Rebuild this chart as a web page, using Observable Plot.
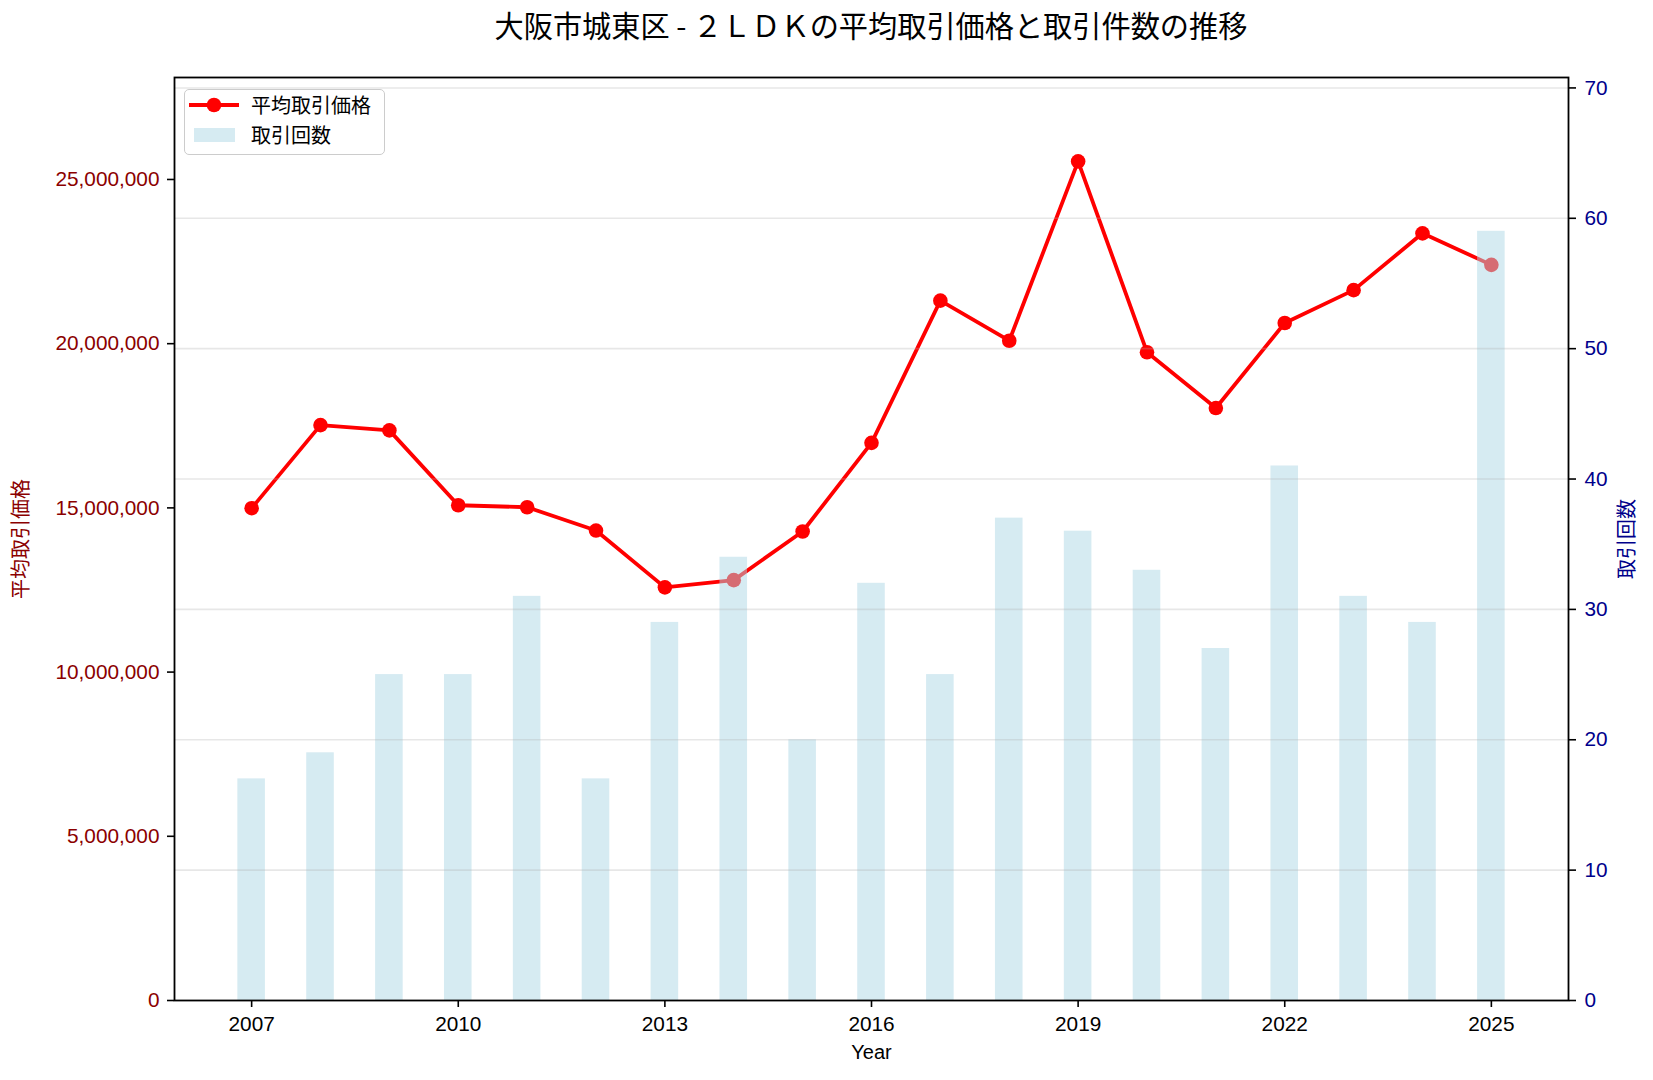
<!DOCTYPE html>
<html lang="ja">
<head>
<meta charset="utf-8">
<script src="https://cdn.jsdelivr.net/npm/d3@7"></script>
<script src="https://cdn.jsdelivr.net/npm/@observablehq/plot@0.6"></script>
<style>
  html, body { margin: 0; padding: 0; background: #ffffff; }
  #wrap { position: relative; width: 1653px; height: 1080px; overflow: hidden;
          font-family: "Liberation Sans", "Noto Sans CJK JP", sans-serif; }
  #title { position: absolute; left: 174px; width: 1394px; top: 5px; text-align: center;
           font-family: "Noto Sans CJK JP", sans-serif; font-size: 29.2px; line-height: 38px; color: #000; }
  .layer { position: absolute; left: 0; top: 60px; }
  #legend { position: absolute; left: 184px; top: 89px; width: 201px; height: 66px; box-sizing: border-box;
            border: 1.5px solid #cccccc; border-radius: 5px; background: rgba(255,255,255,0.8);
            font-family: "Noto Sans CJK JP", sans-serif; font-size: 20px; color: #000; }
  #legend .row { position: absolute; left: 0; height: 30px; display: flex; align-items: center; }
  #legend svg { display: block; }
  #legend span { position: absolute; left: 66px; white-space: nowrap; line-height: 30px; top: 0; }
</style>
</head>
<body>
<div id="wrap">
  <div id="title">大阪市城東区 - ２ＬＤＫの平均取引価格と取引件数の推移</div>
  <div id="lineLayer" class="layer"></div>
  <div id="barLayer" class="layer"></div>
  <div id="legend">
    <div class="row" style="top:0px; width:200px;">
      <svg width="60" height="30" style="margin-left:2px">
        <line x1="2" y1="15" x2="52" y2="15" stroke="red" stroke-width="3.8"/>
        <circle cx="27" cy="15" r="7.3" fill="red"/>
      </svg>
      <span>平均取引価格</span>
    </div>
    <div class="row" style="top:30px; width:200px;">
      <svg width="60" height="30" style="margin-left:2px">
        <rect x="7" y="8" width="41" height="14" fill="lightblue" fill-opacity="0.5"/>
      </svg>
      <span>取引回数</span>
    </div>
  </div>
</div>
<script>
// Yearly figures for 2LDK units in Joto Ward, Osaka
const years  = [2007, 2008, 2009, 2010, 2011, 2012, 2013, 2014, 2015, 2016,
                2017, 2018, 2019, 2020, 2021, 2022, 2023, 2024, 2025];
const prices = [14990000, 17520000, 17360000, 15080000, 15020000, 14310000, 12580000,
                12800000, 14280000, 16980000, 21310000, 20090000, 25550000, 19740000,
                18040000, 20630000, 21630000, 23360000, 22400000];
const counts = [17, 19, 25, 25, 31, 17, 29, 34, 20, 32, 25, 37, 36, 33, 27, 41, 31, 29, 59];

const xTicks     = [2007, 2010, 2013, 2016, 2019, 2022, 2025];
const priceTicks = [0, 5000000, 10000000, 15000000, 20000000, 25000000];
const countTicks = [0, 10, 20, 30, 40, 50, 60, 70];

const rows = years.map((year, i) => ({year, price: prices[i], count: counts[i]}));

// shared frame geometry for the two stacked layers
const frame = {
  width: 1653, height: 1020,
  marginTop: 17, marginRight: 85, marginBottom: 80, marginLeft: 174
};
const barHalf = 0.2;
const xDomain = [years[0] - barHalf - 0.92, years[years.length - 1] + barHalf + 0.92];
const priceMax = d3.max(prices) * 1.1;
const countMax = d3.max(counts) * 1.2;
const font = {background: "transparent", fontFamily: "'Liberation Sans', 'Noto Sans CJK JP', sans-serif",
              fontSize: "20.8px", color: "#000", overflow: "visible"};

// lower layer: price line on the left axis, plus the year axis
const linePlot = Plot.plot({
  ...frame,
  style: font,
  x: {type: "linear", domain: xDomain},
  y: {type: "linear", domain: [0, priceMax]},
  marks: [
    Plot.axisX({ticks: xTicks, tickFormat: d3.format("d"), tickSize: 7, tickPadding: 9,
                stroke: "black", strokeWidth: 1.6, fill: "black", label: null}),
    Plot.axisY({anchor: "left", ticks: priceTicks, tickFormat: d3.format(","), tickSize: 7, tickPadding: 8,
                stroke: "black", strokeWidth: 1.6, fill: "darkred", label: null}),
    Plot.line(rows, {x: "year", y: "price", stroke: "red", strokeWidth: 3.8}),
    Plot.dot(rows, {x: "year", y: "price", r: 7.3, fill: "red", stroke: "none"}),
    Plot.text(["Year"], {frameAnchor: "bottom", dy: 58, fill: "black", fontSize: 20}),
    Plot.text(["平均取引価格"], {frameAnchor: "left", dx: -153, rotate: -90, textAnchor: "middle",
                             fill: "darkred", fontSize: 20, fontFamily: "'Noto Sans CJK JP', sans-serif"})
  ]
});

// upper layer: transaction counts on the right axis, drawn over the line
const barPlot = Plot.plot({
  ...frame,
  style: font,
  x: {type: "linear", domain: xDomain, axis: null},
  y: {type: "linear", domain: [0, countMax]},
  marks: [
    Plot.rect(rows, {x1: d => d.year - barHalf, x2: d => d.year + barHalf, y1: 0, y2: "count",
                     fill: "lightblue", fillOpacity: 0.5}),
    Plot.ruleY(countTicks.filter(t => t > 0), {stroke: "#b0b0b0", strokeOpacity: 0.3, strokeWidth: 1.6}),
    Plot.axisY({anchor: "right", ticks: countTicks, tickSize: 7, tickPadding: 9,
                stroke: "black", strokeWidth: 1.6, fill: "darkblue", label: null}),
    Plot.frame({stroke: "black", strokeWidth: 1.8}),
    Plot.text(["取引回数"], {frameAnchor: "right", dx: 59, rotate: -90, textAnchor: "middle",
                          fill: "darkblue", fontSize: 20, fontFamily: "'Noto Sans CJK JP', sans-serif"})
  ]
});

document.getElementById("lineLayer").appendChild(linePlot);
document.getElementById("barLayer").appendChild(barPlot);
</script>
</body>
</html>
